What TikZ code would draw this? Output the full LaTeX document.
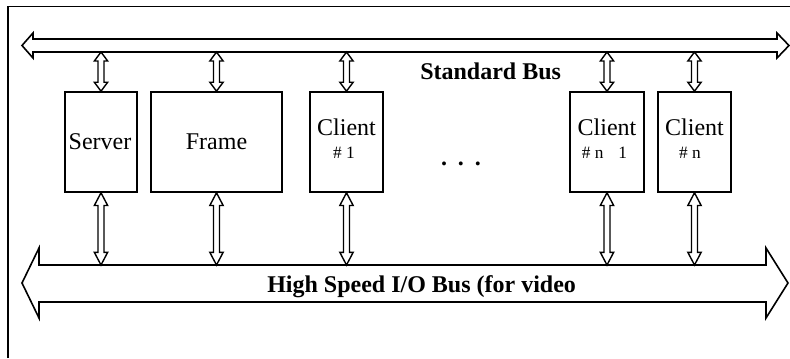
\documentclass[tikz,border=0pt]{standalone}
\usepackage{fontspec}
\setmainfont{Liberation Serif}
\usetikzlibrary{calc}
\tikzset{
  px/.style={x=0.75pt,y=-0.75pt},
  busline/.style={line width=1.2pt,line join=miter},
  conn/.style={line width=1.05pt,line join=miter,fill=white},
  box/.style={draw,line width=1.2pt,inner sep=0pt},
  lbl/.style={inner sep=0pt,font=\fontsize{18pt}{20pt}\selectfont},
  sublbl/.style={inner sep=0pt,font=\fontsize{13pt}{15pt}\selectfont},
  buslbl/.style={inner sep=0pt,font=\fontsize{18pt}{20pt}\selectfont\bfseries},
}
\newcommand\vconn[3]{%
  \draw[conn] let \p1=(#1), \p2=(#2) in
    (\x1,\y1) -- (\x1-5pt,\y1+#3) -- (\x1-2.25pt,\y1+#3) -- (\x1-2.25pt,\y2-#3)
    -- (\x1-5pt,\y2-#3) -- (\x1,\y2) -- (\x1+5pt,\y2-#3) -- (\x1+2.25pt,\y2-#3)
    -- (\x1+2.25pt,\y1+#3) -- (\x1+5pt,\y1+#3) -- cycle;}
\begin{document}
\begin{tikzpicture}[px]
\useasboundingbox (0,0) rectangle (790,358);
% outer frame
\draw[line width=1.4pt] (8,358) -- (8,6.5) -- (790,6.5);
% standard bus
\draw[busline] (22,45.5) -- (33,33) -- (33,39) -- (777,39) -- (777,33) -- (789,45.5)
  -- (777,58) -- (777,52) -- (33,52) -- (33,58) -- cycle;
\coordinate (tbS) at (400,52);
% high speed bus
\draw[busline] (22,283) -- (39,248) -- (39,265) -- (766,265) -- (766,248) -- (788,283)
  -- (766,318) -- (766,302) -- (39,302) -- (39,318) -- cycle;
\coordinate (bbN) at (400,265);
% boxes
\node[box,minimum width=54pt,minimum height=75pt] (srv) at (101,142) {};
\node[box,minimum width=98.25pt,minimum height=75pt] (frm) at (216.5,142) {};
\node[box,minimum width=54.75pt,minimum height=75pt] (c1) at (346.5,142) {};
\node[box,minimum width=55.5pt,minimum height=75pt] (cn1) at (607,142) {};
\node[box,minimum width=54.75pt,minimum height=75pt] (cn) at (694.5,142) {};
% labels
\node[lbl,anchor=base] (tsrv) at (100,149) {Server};
\node[lbl,anchor=base] (tfrm) at (216.5,149) {Frame};
\node[lbl,anchor=base] (tc1) at (346.5,135) {Client};
\node[sublbl,anchor=base] (sc1) at (344,158) {\# 1};
\node[lbl,anchor=base] (tcn1) at (607,135) {Client};
\node[sublbl,anchor=base] (scn1) at (604.5,158) {\# n\hspace{0.85em}1};
\node[lbl,anchor=base] (tcn) at (694.5,135) {Client};
\node[sublbl,anchor=base] (scn) at (690,158) {\# n};
\node[lbl,anchor=base,font=\fontsize{18pt}{20pt}\selectfont\bfseries] (dots) at (461,165) {.\hspace{8.2pt}.\hspace{8.2pt}.};
\node[buslbl,anchor=base west] (sb) at (420,79) {Standard Bus};
\node[buslbl,anchor=base west] (hb) at (267,292) {High Speed I/O Bus (for video};
% connectors to the buses
\foreach \b in {srv,frm,c1,cn1,cn}{
  \vconn{\b.north}{\b.north |- tbS}{6.75pt}
  \vconn{\b.south |- bbN}{\b.south}{9.5pt}
}
\end{tikzpicture}
\end{document}
